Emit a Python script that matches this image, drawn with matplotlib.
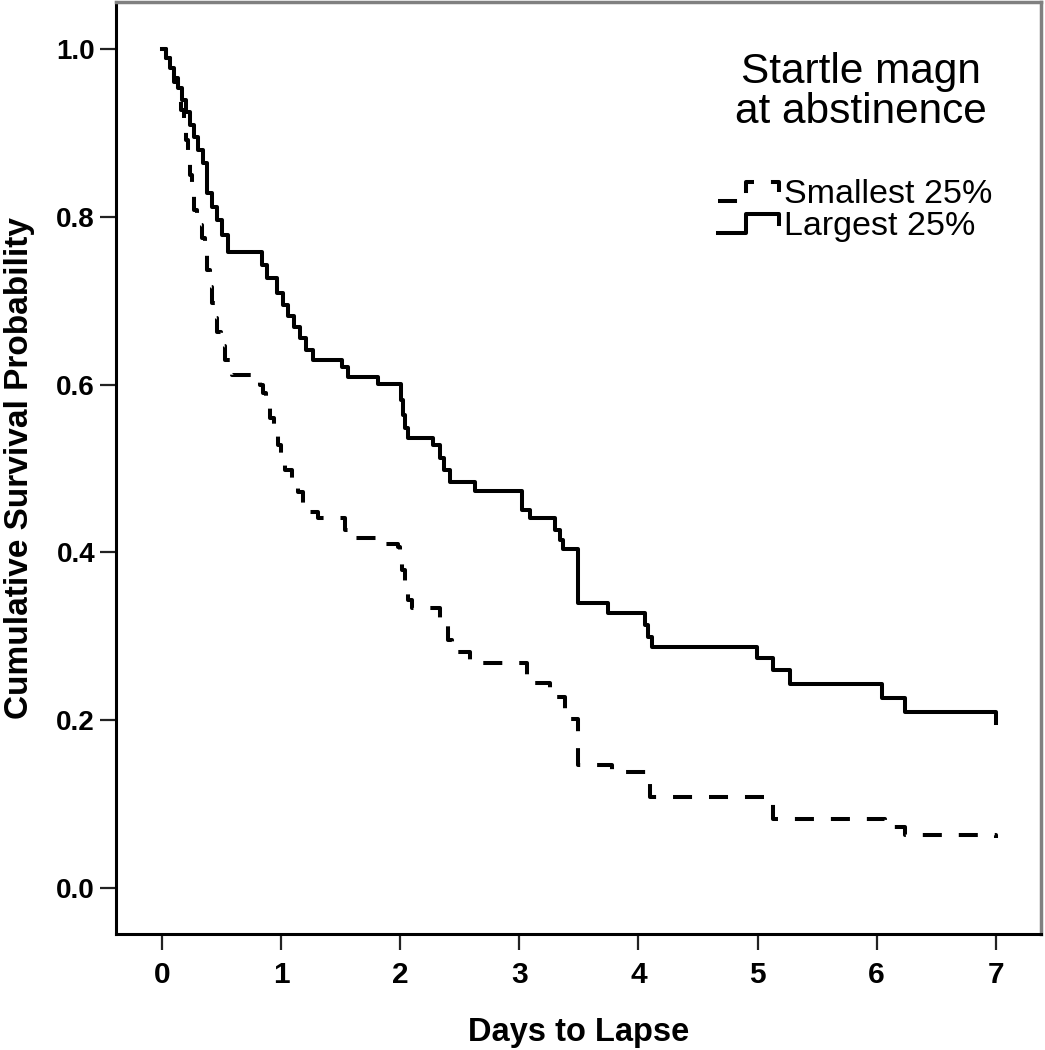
import numpy as np
import matplotlib.pyplot as plt
from matplotlib.lines import Line2D
from matplotlib.legend_handler import HandlerBase

plt.rcParams['lines.scale_dashes'] = False

# Startle magnitude at abstinence - Kaplan-Meier curves (days to lapse)
days_large = [0.0, 0.034, 0.067, 0.101, 0.134, 0.168, 0.202, 0.235, 0.269, 0.302,
              0.344, 0.378, 0.420, 0.462, 0.504, 0.554, 0.840, 0.882, 0.966, 1.016,
              1.058, 1.108, 1.159, 1.209, 1.268, 1.511, 1.562, 1.814, 2.007, 2.024,
              2.040, 2.066, 2.275, 2.334, 2.368, 2.418, 2.628, 3.023, 3.090, 3.300,
              3.342, 3.367, 3.493, 3.745, 4.055, 4.081, 4.114, 4.996, 5.130, 5.273,
              6.045, 6.238, 7.0]
surv_large = [1.0, 0.989, 0.977, 0.965, 0.953, 0.939, 0.925, 0.909, 0.895, 0.880,
              0.864, 0.828, 0.812, 0.796, 0.778, 0.758, 0.743, 0.727, 0.709, 0.695,
              0.682, 0.669, 0.656, 0.641, 0.629, 0.621, 0.609, 0.601, 0.582, 0.564,
              0.548, 0.536, 0.528, 0.513, 0.498, 0.484, 0.473, 0.451, 0.441, 0.427,
              0.415, 0.404, 0.340, 0.328, 0.313, 0.299, 0.287, 0.274, 0.260, 0.243,
              0.226, 0.210, 0.197]

days_small = [0.0, 0.034, 0.067, 0.101, 0.134, 0.160, 0.185, 0.202, 0.218, 0.235,
              0.252, 0.269, 0.294, 0.336, 0.361, 0.378, 0.403, 0.420, 0.445, 0.462,
              0.495, 0.529, 0.588, 0.823, 0.848, 0.873, 0.907, 0.940, 0.974, 0.999,
              1.033, 1.092, 1.142, 1.184, 1.243, 1.310, 1.537, 1.562, 1.805, 1.982,
              1.998, 2.015, 2.040, 2.066, 2.099, 2.334, 2.359, 2.401, 2.435, 2.586,
              2.645, 3.065, 3.258, 3.283, 3.384, 3.409, 3.493, 3.778, 4.097, 5.130,
              6.070, 6.238, 7.0]
surv_small = [1.0, 0.989, 0.975, 0.961, 0.945, 0.927, 0.909, 0.892, 0.870, 0.850,
              0.830, 0.808, 0.790, 0.775, 0.754, 0.737, 0.716, 0.697, 0.679, 0.663,
              0.646, 0.629, 0.611, 0.600, 0.590, 0.576, 0.560, 0.546, 0.528, 0.513,
              0.498, 0.486, 0.472, 0.459, 0.448, 0.441, 0.427, 0.417, 0.410, 0.406,
              0.399, 0.379, 0.359, 0.343, 0.334, 0.322, 0.316, 0.296, 0.281, 0.272,
              0.268, 0.244, 0.236, 0.228, 0.212, 0.201, 0.147, 0.138, 0.108, 0.082,
              0.073, 0.063, 0.060]

groups = ['Smallest 25%', 'Largest 25%']
legend_title = 'Startle magn\nat abstinence'
xticks = [0, 1, 2, 3, 4, 5, 6, 7]
yticks = [0.0, 0.2, 0.4, 0.6, 0.8, 1.0]


class HandlerStep(HandlerBase):
    # little survival-curve icon like the SPSS legend
    def create_artists(self, legend, orig_handle, xdescent, ydescent,
                       width, height, fontsize, trans):
        xs = np.array([0, 0.45, 0.45, 1, 1]) * width - xdescent
        ys = np.array([0.1, 0.1, 0.9, 0.9, 0.45]) * height - ydescent
        ln = Line2D(xs, ys)
        ln.update_from(orig_handle)
        ln.set_transform(trans)
        return [ln]


fig = plt.figure(figsize=(10.45, 10.5), dpi=100)
ax = fig.add_axes([116 / 1045, 1 - 934 / 1050, 925 / 1045, 932 / 1050])

l_small, = ax.step(days_small, surv_small, where='post', color='black',
                   linewidth=2.9, linestyle=(0, (13.7, 12.2)))
l_large, = ax.step(days_large, surv_large, where='post', color='black',
                   linewidth=2.9)

ax.set_xlim(-0.386, 7.38)
ax.set_ylim(-0.055, 1.056)
ax.set_xticks(xticks)
ax.set_yticks(yticks)
ax.set_xticklabels([str(v) for v in xticks], family='Liberation Sans',
                   fontweight='bold', fontsize=21.5)
ax.set_yticklabels(['%.1f' % v for v in yticks], family='Liberation Sans',
                   fontweight='bold', fontsize=20)
ax.tick_params(axis='both', length=11.5, width=1.6, color='#222222')
ax.tick_params(axis='x', pad=8)
ax.tick_params(axis='y', pad=3.6)

for side in ['left', 'bottom']:
    ax.spines[side].set_linewidth(2.2)
    ax.spines[side].set_color('black')
for side in ['top', 'right']:
    ax.spines[side].set_linewidth(2.5)
    ax.spines[side].set_color('#808080')

ax.set_xlabel('Days to Lapse', family='Liberation Sans', fontweight='bold',
              fontsize=23.5)
ax.xaxis.set_label_coords(0.5, -(1032 - 934) / 932)
ax.xaxis.label.set_verticalalignment('center')
ax.set_ylabel('Cumulative Survival Probability', family='Liberation Sans',
              fontweight='bold', fontsize=24)
ax.yaxis.set_label_coords((20 - 116) / 925, 0.5)
ax.yaxis.label.set_verticalalignment('center')

fig.text(861 / 1045, 1 - 92 / 1050, legend_title, ha='center', va='center',
         fontsize=30.5, family='Liberation Sans', linespacing=0.98,
         multialignment='center')

ax.legend(handles=[l_small, l_large], labels=groups,
          handler_map={Line2D: HandlerStep()},
          loc='upper left', bbox_to_anchor=(718 / 1045, 1 - 179 / 1050),
          bbox_transform=fig.transFigure, frameon=False, borderpad=0,
          borderaxespad=0, handlelength=1.8, handleheight=0.7,
          handletextpad=0.15, labelspacing=0.03,
          prop={'family': 'Liberation Sans', 'size': 24.5})

fig.savefig('out.png', dpi=100)
